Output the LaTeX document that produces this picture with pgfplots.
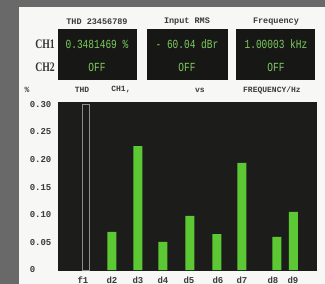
\documentclass[border=0pt]{standalone}
\usepackage{fontspec}
\setmainfont{Liberation Serif}
\setmonofont{Liberation Mono}
\usepackage{graphicx}
\usepackage{pgfplots}
\pgfplotsset{compat=1.18}
\definecolor{bggray}{HTML}{696969}
\definecolor{panel}{HTML}{F7F7F5}
\definecolor{boxblack}{HTML}{171716}
\definecolor{plotbg}{HTML}{1C1C1A}
\definecolor{bargreen}{HTML}{5CC834}
\definecolor{txtgreen}{HTML}{7CCB5E}
\definecolor{labelgray}{HTML}{3A3A3A}
\definecolor{outlinegray}{HTML}{8E8E86}
\begin{document}
\begin{tikzpicture}[x=1pt,y=1pt]
\fill[bggray] (0,0) rectangle (325,284);
\fill[panel] (19,0) rectangle (325,277);
% header boxes
\fill[boxblack] (58,204) rectangle (137,255);
\fill[boxblack] (147,204) rectangle (228,255);
\fill[boxblack] (236,204) rectangle (315,255);
\begin{scope}[every node/.style={font=\ttfamily\bfseries\fontsize{8.5}{8.5}\selectfont, text=labelgray, inner sep=0pt}]
\node at (97,262) {THD 23456789};
\node at (187,262) {Input RMS};
\node at (276,262) {Frequency};
\end{scope}
\begin{scope}[every node/.style={font=\rmfamily\bfseries\fontsize{13}{13}\selectfont, text=black!80, inner sep=0pt}]
\node at (45,240) {\scalebox{0.75}[1]{CH1}};
\node at (45,217) {\scalebox{0.75}[1]{CH2}};
\end{scope}
\begin{scope}[every node/.style={font=\ttfamily\fontsize{9.5}{9.5}\selectfont, text=txtgreen, inner sep=0pt}]
\node at (97,240) {\scalebox{1}[1.3]{0.3481469 \%}};
\node at (97,217) {\scalebox{1}[1.3]{OFF}};
\node at (187,240) {\scalebox{1}[1.3]{- 60.04 dBr}};
\node at (187,217) {\scalebox{1}[1.3]{OFF}};
\node at (276,240) {\scalebox{1}[1.3]{1.00003 kHz}};
\node at (276,217) {\scalebox{1}[1.3]{OFF}};
\end{scope}
\begin{axis}[
  at={(58pt,13pt)}, anchor=south west,
  scale only axis, width=259pt, height=169pt,
  xmin=58, xmax=317, ymin=-0.0018, ymax=0.304,
  axis background/.style={fill=plotbg},
  axis line style={draw=none},
  major tick length=0pt,
  clip=false,
  ytick={0,0.05,0.10,0.15,0.20,0.25,0.30},
  yticklabels={0,0.05,0.10,0.15,0.20,0.25,0.30},
  xtick={83,112,138,163,189,218,242,273,293},
  xticklabels={f1,d2,d3,d4,d5,d6,d7,d8,d9},
  yticklabel style={font=\ttfamily\bfseries\fontsize{9}{9}\selectfont, text=labelgray, text width=23pt, align=left, inner sep=0pt, xshift=-5pt},
  xticklabel style={font=\ttfamily\bfseries\fontsize{9}{9}\selectfont, text=labelgray, inner sep=0pt, anchor=center, yshift=-9pt},
]
\addplot[ybar, bar width=9pt, bar shift=0pt, fill=bargreen, draw=none]
  coordinates {(112,0.069) (138,0.224) (163,0.051) (190,0.098) (217,0.065) (242,0.194) (277,0.060) (293.5,0.105)};
\addplot[ybar, bar width=7pt, bar shift=0pt, fill=none, draw=outlinegray, line width=0.7pt]
  coordinates {(86,0.300)};
\end{axis}
\begin{scope}[every node/.style={font=\ttfamily\bfseries\fontsize{8}{8}\selectfont, text=labelgray, inner sep=0pt}]
\node at (27,194) {\%};
\node at (82,194) {THD};
\node at (121,194) {CH1,};
\node at (200,194) {vs};
\node at (272,194) {FREQUENCY/Hz};
\end{scope}
\end{tikzpicture}
\end{document}
